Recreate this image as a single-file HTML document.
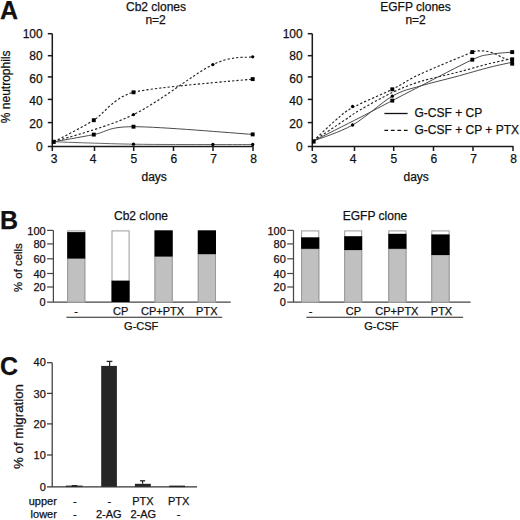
<!DOCTYPE html>
<html><head><meta charset="utf-8"><style>
html,body{margin:0;padding:0;background:#fff;width:520px;height:520px;overflow:hidden}
svg{display:block}
text{font-family:"Liberation Sans", sans-serif;fill:#111;stroke:#111;stroke-width:0.25px}
</style></head><body>
<svg width="520" height="520" viewBox="0 0 520 520">
<rect width="520" height="520" fill="#fff"/>
<text x="0" y="19" font-size="25" text-anchor="start" font-weight="bold" >A</text>
<text x="0" y="228.5" font-size="25" text-anchor="start" font-weight="bold" >B</text>
<text x="0" y="374.8" font-size="25" text-anchor="start" font-weight="bold" >C</text>
<line x1="52.3" y1="33.7" x2="52.3" y2="151" stroke="#1a1a1a" stroke-width="1.5" />
<line x1="47.8" y1="146.5" x2="253.5" y2="146.5" stroke="#1a1a1a" stroke-width="1.5" />
<line x1="47.8" y1="122.6" x2="52.3" y2="122.6" stroke="#1a1a1a" stroke-width="1.5" />
<line x1="47.8" y1="99.4" x2="52.3" y2="99.4" stroke="#1a1a1a" stroke-width="1.5" />
<line x1="47.8" y1="76.9" x2="52.3" y2="76.9" stroke="#1a1a1a" stroke-width="1.5" />
<line x1="47.8" y1="55.7" x2="52.3" y2="55.7" stroke="#1a1a1a" stroke-width="1.5" />
<line x1="47.8" y1="33.7" x2="52.3" y2="33.7" stroke="#1a1a1a" stroke-width="1.5" />
<line x1="94.5" y1="146.5" x2="94.5" y2="151" stroke="#1a1a1a" stroke-width="1.5" />
<line x1="133.7" y1="146.5" x2="133.7" y2="151" stroke="#1a1a1a" stroke-width="1.5" />
<line x1="173.5" y1="146.5" x2="173.5" y2="151" stroke="#1a1a1a" stroke-width="1.5" />
<line x1="213" y1="146.5" x2="213" y2="151" stroke="#1a1a1a" stroke-width="1.5" />
<line x1="253" y1="146.5" x2="253" y2="151" stroke="#1a1a1a" stroke-width="1.5" />
<text x="42.7" y="150.55" font-size="12" text-anchor="end" font-weight="normal" >0</text>
<text x="42.7" y="128.05" font-size="12" text-anchor="end" font-weight="normal" >20</text>
<text x="42.7" y="105.15" font-size="12" text-anchor="end" font-weight="normal" >40</text>
<text x="42.7" y="82.7" font-size="12" text-anchor="end" font-weight="normal" >60</text>
<text x="42.7" y="59.65" font-size="12" text-anchor="end" font-weight="normal" >80</text>
<text x="42.7" y="37.7" font-size="12" text-anchor="end" font-weight="normal" >100</text>
<text x="54" y="162.6" font-size="12" text-anchor="middle" font-weight="normal" >3</text>
<text x="93.2" y="162.6" font-size="12" text-anchor="middle" font-weight="normal" >4</text>
<text x="133.9" y="162.6" font-size="12" text-anchor="middle" font-weight="normal" >5</text>
<text x="173.9" y="162.6" font-size="12" text-anchor="middle" font-weight="normal" >6</text>
<text x="213.7" y="162.6" font-size="12" text-anchor="middle" font-weight="normal" >7</text>
<text x="253.7" y="162.6" font-size="12" text-anchor="middle" font-weight="normal" >8</text>
<text x="156" y="10.8" font-size="12" text-anchor="middle" font-weight="normal" >Cb2 clones</text>
<text x="155.6" y="24.3" font-size="12" text-anchor="middle" font-weight="normal" >n=2</text>
<text x="154.2" y="180.8" font-size="12" text-anchor="middle" font-weight="normal" >days</text>
<line x1="312.3" y1="33.7" x2="312.3" y2="151" stroke="#1a1a1a" stroke-width="1.5" />
<line x1="307.8" y1="146.5" x2="513.5" y2="146.5" stroke="#1a1a1a" stroke-width="1.5" />
<line x1="307.8" y1="122.6" x2="312.3" y2="122.6" stroke="#1a1a1a" stroke-width="1.5" />
<line x1="307.8" y1="99.4" x2="312.3" y2="99.4" stroke="#1a1a1a" stroke-width="1.5" />
<line x1="307.8" y1="76.9" x2="312.3" y2="76.9" stroke="#1a1a1a" stroke-width="1.5" />
<line x1="307.8" y1="55.7" x2="312.3" y2="55.7" stroke="#1a1a1a" stroke-width="1.5" />
<line x1="307.8" y1="33.7" x2="312.3" y2="33.7" stroke="#1a1a1a" stroke-width="1.5" />
<line x1="354.5" y1="146.5" x2="354.5" y2="151" stroke="#1a1a1a" stroke-width="1.5" />
<line x1="393.7" y1="146.5" x2="393.7" y2="151" stroke="#1a1a1a" stroke-width="1.5" />
<line x1="433.5" y1="146.5" x2="433.5" y2="151" stroke="#1a1a1a" stroke-width="1.5" />
<line x1="473" y1="146.5" x2="473" y2="151" stroke="#1a1a1a" stroke-width="1.5" />
<line x1="513" y1="146.5" x2="513" y2="151" stroke="#1a1a1a" stroke-width="1.5" />
<text x="302.7" y="150.55" font-size="12" text-anchor="end" font-weight="normal" >0</text>
<text x="302.7" y="128.05" font-size="12" text-anchor="end" font-weight="normal" >20</text>
<text x="302.7" y="105.15" font-size="12" text-anchor="end" font-weight="normal" >40</text>
<text x="302.7" y="82.7" font-size="12" text-anchor="end" font-weight="normal" >60</text>
<text x="302.7" y="59.65" font-size="12" text-anchor="end" font-weight="normal" >80</text>
<text x="302.7" y="37.7" font-size="12" text-anchor="end" font-weight="normal" >100</text>
<text x="314" y="162.6" font-size="12" text-anchor="middle" font-weight="normal" >3</text>
<text x="353.2" y="162.6" font-size="12" text-anchor="middle" font-weight="normal" >4</text>
<text x="393.9" y="162.6" font-size="12" text-anchor="middle" font-weight="normal" >5</text>
<text x="433.9" y="162.6" font-size="12" text-anchor="middle" font-weight="normal" >6</text>
<text x="473.7" y="162.6" font-size="12" text-anchor="middle" font-weight="normal" >7</text>
<text x="513.7" y="162.6" font-size="12" text-anchor="middle" font-weight="normal" >8</text>
<text x="415.5" y="10.8" font-size="12" text-anchor="middle" font-weight="normal" >EGFP clones</text>
<text x="415.6" y="24.3" font-size="12" text-anchor="middle" font-weight="normal" >n=2</text>
<text x="416.2" y="180.8" font-size="12" text-anchor="middle" font-weight="normal" >days</text>
<text transform="translate(10.4,86.8) rotate(-90)" font-size="12" text-anchor="middle">% neutrophils</text>
<path d="M54,141.8 C58.98,139.1 83.86,126.39 93.8,120.2 C103.74,114.01 113.64,97.44 133.5,92.3 C153.36,87.16 237.8,80.75 252.7,79.1" fill="none" stroke="#222" stroke-width="1.15" stroke-dasharray="2.3 2.0"/>
<path d="M54,141.8 C67.25,137.27 107.02,127.47 133.5,114.6 C159.98,101.73 193.03,74.23 212.9,64.6 C232.77,54.97 246.07,58.1 252.7,56.8" fill="none" stroke="#222" stroke-width="1.15" stroke-dasharray="2.3 2.0"/>
<path d="M54,141.8 C60.63,140.6 80.55,137.12 93.8,134.6 C107.05,132.08 107.02,126.73 133.5,126.7 C159.98,126.67 232.83,133.12 252.7,134.4" fill="none" stroke="#4a4a4a" stroke-width="1.0" />
<path d="M54,141.8 C67.25,142.2 107.02,143.75 133.5,144.2 C159.98,144.65 193.03,144.45 212.9,144.5 C232.77,144.55 246.07,144.5 252.7,144.5" fill="none" stroke="#555" stroke-width="0.9" />
<rect x="91.85" y="118.25" width="3.9" height="3.9" fill="#000" stroke="none" stroke-width="0"/>
<rect x="131.55" y="90.35" width="3.9" height="3.9" fill="#000" stroke="none" stroke-width="0"/>
<rect x="250.75" y="77.15" width="3.9" height="3.9" fill="#000" stroke="none" stroke-width="0"/>
<rect x="91.85" y="132.65" width="3.9" height="3.9" fill="#000" stroke="none" stroke-width="0"/>
<rect x="131.55" y="124.75" width="3.9" height="3.9" fill="#000" stroke="none" stroke-width="0"/>
<rect x="250.75" y="132.45" width="3.9" height="3.9" fill="#000" stroke="none" stroke-width="0"/>
<circle cx="133.5" cy="114.6" r="1.65" fill="#000"/>
<circle cx="212.9" cy="64.6" r="1.65" fill="#000"/>
<circle cx="252.7" cy="56.8" r="1.65" fill="#000"/>
<circle cx="133.5" cy="144.2" r="1.65" fill="#000"/>
<circle cx="212.9" cy="144.5" r="1.65" fill="#000"/>
<circle cx="252.7" cy="144.5" r="1.65" fill="#000"/>
<rect x="51.8" y="139.8" width="3.9" height="4.1" fill="#000" stroke="none" stroke-width="0"/>
<path d="M313.4,141 C317.17,137.48 329.47,125.47 336,119.9 C342.53,114.33 343.22,112.7 352.6,107.6 C361.98,102.5 381.07,94.87 392.3,89.3 C403.53,83.73 406.67,80.4 420,74.2 C433.33,68 463.58,55.78 472.3,52.1 C478,49.9 488,50.4 496,54.3 C502,57.3 507,60.2 512.2,60.2" fill="none" stroke="#222" stroke-width="1.15" stroke-dasharray="2.3 2.0"/>
<path d="M313.4,141 C318.67,137.48 337.23,125.07 345,119.9 C352.77,114.73 352.12,114.57 360,110 C367.88,105.43 382.3,97.23 392.3,92.5 C402.3,87.77 409.55,84.87 420,81.6 C430.45,78.33 443.33,75.92 455,72.9 C466.67,69.88 480.47,65.88 490,63.5 C499.53,61.12 508.5,59.42 512.2,58.6" fill="none" stroke="#222" stroke-width="1.15" stroke-dasharray="2.3 2.0"/>
<path d="M313.4,141 C319.93,138.33 339.45,132.47 352.6,125 C365.75,117.53 381.07,102.68 392.3,96.2 C403.53,89.72 409.55,89.32 420,86.1 C430.45,82.88 443.33,80.05 455,76.9 C466.67,73.75 480.47,69.63 490,67.2 C499.53,64.77 508.5,63.12 512.2,62.3" fill="none" stroke="#4a4a4a" stroke-width="1.0" />
<path d="M313.4,141 C321.17,137.08 346.85,124.23 360,117.5 C373.15,110.77 382.3,105.8 392.3,100.6 C402.3,95.4 406.67,93.12 420,86.3 C433.33,79.48 460.63,65.02 472.3,59.7 C483.97,54.38 483.35,55.67 490,54.4 C496.65,53.13 508.5,52.48 512.2,52.1" fill="none" stroke="#4a4a4a" stroke-width="1.0" />
<circle cx="352.6" cy="106.5" r="1.65" fill="#000"/>
<circle cx="352.6" cy="125" r="1.65" fill="#000"/>
<circle cx="392.3" cy="96.2" r="1.65" fill="#000"/>
<rect x="390.35" y="87.35" width="3.9" height="3.9" fill="#000" stroke="none" stroke-width="0"/>
<rect x="390.35" y="98.65" width="3.9" height="3.9" fill="#000" stroke="none" stroke-width="0"/>
<rect x="470.35" y="50.15" width="3.9" height="3.9" fill="#000" stroke="none" stroke-width="0"/>
<rect x="470.35" y="57.75" width="3.9" height="3.9" fill="#000" stroke="none" stroke-width="0"/>
<rect x="510.25" y="50.15" width="3.9" height="3.9" fill="#000" stroke="none" stroke-width="0"/>
<rect x="510.25" y="57.35" width="3.9" height="3.9" fill="#000" stroke="none" stroke-width="0"/>
<circle cx="512.2" cy="61.3" r="1.65" fill="#000"/>
<rect x="510.25" y="61.75" width="3.9" height="3.9" fill="#000" stroke="none" stroke-width="0"/>
<rect x="311.9" y="139.4" width="3.7" height="4.2" fill="#000" stroke="none" stroke-width="0"/>
<line x1="384.4" y1="113.5" x2="407.6" y2="113.5" stroke="#111" stroke-width="1.3" />
<line x1="384.4" y1="130.3" x2="407.6" y2="130.3" stroke="#111" stroke-width="1.3" stroke-dasharray="3.7 2.8"/>
<text x="414.5" y="116.9" font-size="12" text-anchor="start" font-weight="normal" >G-CSF + CP</text>
<text x="414.5" y="133.7" font-size="12" text-anchor="start" font-weight="normal" >G-CSF + CP + PTX</text>
<line x1="53.4" y1="230.4" x2="53.4" y2="302.1" stroke="#454545" stroke-width="1.25" />
<line x1="47.1" y1="302.1" x2="230.7" y2="302.1" stroke="#454545" stroke-width="1.1" />
<line x1="47.1" y1="287" x2="53.4" y2="287" stroke="#454545" stroke-width="1.2" />
<line x1="47.1" y1="273.5" x2="53.4" y2="273.5" stroke="#454545" stroke-width="1.2" />
<line x1="47.1" y1="258.8" x2="53.4" y2="258.8" stroke="#454545" stroke-width="1.2" />
<line x1="47.1" y1="243.9" x2="53.4" y2="243.9" stroke="#454545" stroke-width="1.2" />
<line x1="47.1" y1="230.4" x2="53.4" y2="230.4" stroke="#454545" stroke-width="1.2" />
<text x="45.7" y="305.85" font-size="11" text-anchor="end" font-weight="normal" >0</text>
<text x="45.7" y="291.35" font-size="11" text-anchor="end" font-weight="normal" >20</text>
<text x="45.7" y="277.85" font-size="11" text-anchor="end" font-weight="normal" >40</text>
<text x="45.7" y="263.15" font-size="11" text-anchor="end" font-weight="normal" >60</text>
<text x="45.7" y="248.25" font-size="11" text-anchor="end" font-weight="normal" >80</text>
<text x="45.7" y="234.75" font-size="11" text-anchor="end" font-weight="normal" >100</text>
<rect x="67.7" y="230.9" width="17.1" height="71.2" fill="#fff" stroke="#9a9a9a" stroke-width="1"/>
<rect x="67.7" y="258.5" width="17.1" height="43.6" fill="#c0c0c0" stroke="#9a9a9a" stroke-width="1"/>
<rect x="67.2" y="232.1" width="18.1" height="26.4" fill="#000" stroke="none" stroke-width="0"/>
<rect x="112" y="230.9" width="17.1" height="71.2" fill="#fff" stroke="#9a9a9a" stroke-width="1"/>
<rect x="111.5" y="280.6" width="18.1" height="21.5" fill="#000" stroke="none" stroke-width="0"/>
<rect x="155" y="230.9" width="17.2" height="71.2" fill="#fff" stroke="#9a9a9a" stroke-width="1"/>
<rect x="155" y="256.5" width="17.2" height="45.6" fill="#c0c0c0" stroke="#9a9a9a" stroke-width="1"/>
<rect x="154.5" y="230.4" width="18.2" height="26.1" fill="#000" stroke="none" stroke-width="0"/>
<rect x="198.3" y="230.9" width="17.2" height="71.2" fill="#fff" stroke="#9a9a9a" stroke-width="1"/>
<rect x="198.3" y="254.1" width="17.2" height="48" fill="#c0c0c0" stroke="#9a9a9a" stroke-width="1"/>
<rect x="197.8" y="230.4" width="18.2" height="23.7" fill="#000" stroke="none" stroke-width="0"/>
<text x="141" y="220" font-size="12" text-anchor="middle" font-weight="normal" >Cb2 clone</text>
<text x="76" y="314.8" font-size="11" text-anchor="middle" font-weight="normal" >-</text>
<text x="120.6" y="314.8" font-size="11" text-anchor="middle" font-weight="normal" >CP</text>
<text x="162.6" y="314.8" font-size="11" text-anchor="middle" font-weight="normal" >CP+PTX</text>
<text x="206.8" y="314.8" font-size="11" text-anchor="middle" font-weight="normal" >PTX</text>
<line x1="66.4" y1="317.3" x2="222.2" y2="317.3" stroke="#222" stroke-width="1.1" />
<text x="141.2" y="330.4" font-size="11" text-anchor="middle" font-weight="normal" >G-CSF</text>
<line x1="293.5" y1="230.4" x2="293.5" y2="302.1" stroke="#454545" stroke-width="1.25" />
<line x1="287.2" y1="302.1" x2="470.6" y2="302.1" stroke="#454545" stroke-width="1.1" />
<line x1="287.2" y1="287" x2="293.5" y2="287" stroke="#454545" stroke-width="1.2" />
<line x1="287.2" y1="273.5" x2="293.5" y2="273.5" stroke="#454545" stroke-width="1.2" />
<line x1="287.2" y1="258.8" x2="293.5" y2="258.8" stroke="#454545" stroke-width="1.2" />
<line x1="287.2" y1="243.9" x2="293.5" y2="243.9" stroke="#454545" stroke-width="1.2" />
<line x1="287.2" y1="230.4" x2="293.5" y2="230.4" stroke="#454545" stroke-width="1.2" />
<text x="285.8" y="305.85" font-size="11" text-anchor="end" font-weight="normal" >0</text>
<text x="285.8" y="291.35" font-size="11" text-anchor="end" font-weight="normal" >20</text>
<text x="285.8" y="277.85" font-size="11" text-anchor="end" font-weight="normal" >40</text>
<text x="285.8" y="263.15" font-size="11" text-anchor="end" font-weight="normal" >60</text>
<text x="285.8" y="248.25" font-size="11" text-anchor="end" font-weight="normal" >80</text>
<text x="285.8" y="234.75" font-size="11" text-anchor="end" font-weight="normal" >100</text>
<rect x="301.6" y="230.9" width="17.2" height="71.2" fill="#fff" stroke="#9a9a9a" stroke-width="1"/>
<rect x="301.6" y="248.8" width="17.2" height="53.3" fill="#c0c0c0" stroke="#9a9a9a" stroke-width="1"/>
<rect x="301.1" y="237.3" width="18.2" height="11.5" fill="#000" stroke="none" stroke-width="0"/>
<rect x="344.7" y="230.9" width="17" height="71.2" fill="#fff" stroke="#9a9a9a" stroke-width="1"/>
<rect x="344.7" y="250" width="17" height="52.1" fill="#c0c0c0" stroke="#9a9a9a" stroke-width="1"/>
<rect x="344.2" y="236.2" width="18" height="13.8" fill="#000" stroke="none" stroke-width="0"/>
<rect x="388.8" y="230.9" width="17.2" height="71.2" fill="#fff" stroke="#9a9a9a" stroke-width="1"/>
<rect x="388.8" y="248.8" width="17.2" height="53.3" fill="#c0c0c0" stroke="#9a9a9a" stroke-width="1"/>
<rect x="388.3" y="233.8" width="18.2" height="15" fill="#000" stroke="none" stroke-width="0"/>
<rect x="431.8" y="230.9" width="17.3" height="71.2" fill="#fff" stroke="#9a9a9a" stroke-width="1"/>
<rect x="431.8" y="255" width="17.3" height="47.1" fill="#c0c0c0" stroke="#9a9a9a" stroke-width="1"/>
<rect x="431.3" y="234.4" width="18.3" height="20.6" fill="#000" stroke="none" stroke-width="0"/>
<text x="375" y="220" font-size="12" text-anchor="middle" font-weight="normal" >EGFP clone</text>
<text x="310.6" y="314.8" font-size="11" text-anchor="middle" font-weight="normal" >-</text>
<text x="353.5" y="314.8" font-size="11" text-anchor="middle" font-weight="normal" >CP</text>
<text x="396.9" y="314.8" font-size="11" text-anchor="middle" font-weight="normal" >CP+PTX</text>
<text x="441.5" y="314.8" font-size="11" text-anchor="middle" font-weight="normal" >PTX</text>
<line x1="306.4" y1="317.3" x2="463.1" y2="317.3" stroke="#222" stroke-width="1.1" />
<text x="381.4" y="330.4" font-size="11" text-anchor="middle" font-weight="normal" >G-CSF</text>
<text transform="translate(22.4,267.6) rotate(-90)" font-size="11.4" text-anchor="middle">% of cells</text>
<line x1="52.2" y1="362.7" x2="52.2" y2="486.8" stroke="#333" stroke-width="1.2" />
<line x1="47" y1="486.8" x2="197" y2="486.8" stroke="#333" stroke-width="1.2" />
<line x1="47" y1="455" x2="52.2" y2="455" stroke="#333" stroke-width="1.2" />
<line x1="47" y1="423.9" x2="52.2" y2="423.9" stroke="#333" stroke-width="1.2" />
<line x1="47" y1="393.4" x2="52.2" y2="393.4" stroke="#333" stroke-width="1.2" />
<line x1="47" y1="362.7" x2="52.2" y2="362.7" stroke="#333" stroke-width="1.2" />
<text x="45.8" y="490.85" font-size="11" text-anchor="end" font-weight="normal" >0</text>
<text x="45.8" y="459.1" font-size="11" text-anchor="end" font-weight="normal" >10</text>
<text x="45.8" y="428.2" font-size="11" text-anchor="end" font-weight="normal" >20</text>
<text x="45.8" y="397.9" font-size="11" text-anchor="end" font-weight="normal" >30</text>
<text x="45.8" y="366.25" font-size="11" text-anchor="end" font-weight="normal" >40</text>
<rect x="65.9" y="485.6" width="16.6" height="1.2" fill="#262626" stroke="none" stroke-width="0"/>
<rect x="71.8" y="485" width="5.5" height="2" fill="#262626" stroke="none" stroke-width="0"/>
<rect x="101.2" y="365.9" width="15.7" height="120.9" fill="#262626" stroke="none" stroke-width="0"/>
<line x1="109.6" y1="361.4" x2="109.6" y2="365.9" stroke="#262626" stroke-width="1.2" />
<line x1="106.6" y1="361.4" x2="112.4" y2="361.4" stroke="#262626" stroke-width="1.3" />
<rect x="134.9" y="483.8" width="15.9" height="3" fill="#262626" stroke="none" stroke-width="0"/>
<line x1="142.6" y1="480.8" x2="142.6" y2="483.8" stroke="#262626" stroke-width="1.2" />
<line x1="140" y1="480.8" x2="145.2" y2="480.8" stroke="#262626" stroke-width="1.3" />
<rect x="169.2" y="485.6" width="15.8" height="1.5" fill="#262626" stroke="none" stroke-width="0"/>
<text transform="translate(22.8,426.5) rotate(-90)" font-size="13.3" text-anchor="middle">% of migration</text>
<text x="56.9" y="504.6" font-size="11" text-anchor="end" font-weight="normal" >upper</text>
<text x="56.9" y="517.8" font-size="11" text-anchor="end" font-weight="normal" >lower</text>
<text x="74.8" y="504.6" font-size="11" text-anchor="middle" font-weight="normal" >-</text>
<text x="109.4" y="504.6" font-size="11" text-anchor="middle" font-weight="normal" >-</text>
<text x="142.9" y="504.6" font-size="11" text-anchor="middle" font-weight="normal" >PTX</text>
<text x="178.7" y="504.6" font-size="11" text-anchor="middle" font-weight="normal" >PTX</text>
<text x="74.8" y="517.8" font-size="11" text-anchor="middle" font-weight="normal" >-</text>
<text x="108.8" y="517.8" font-size="11" text-anchor="middle" font-weight="normal" >2-AG</text>
<text x="143.3" y="517.8" font-size="11" text-anchor="middle" font-weight="normal" >2-AG</text>
<text x="178.6" y="517.8" font-size="11" text-anchor="middle" font-weight="normal" >-</text>
</svg></body></html>
